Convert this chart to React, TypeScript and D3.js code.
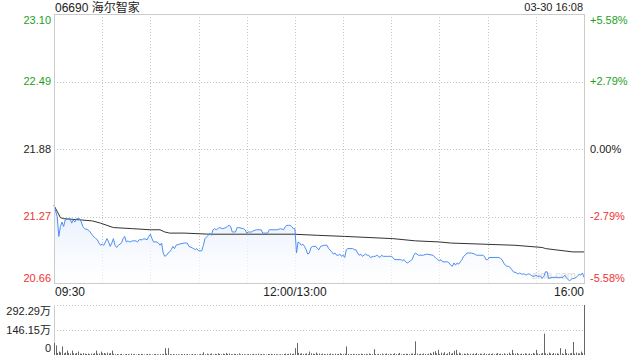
import React from "react";
import * as d3 from "d3";

// ---- data ----
const title = "06690 海尔智家";
const stamp = "03-30 16:08";
const prevClose = 21.88;
const priceTicks = [23.1, 22.49, 21.88, 21.27, 20.66];
const pctTicks = ["+5.58%", "+2.79%", "0.00%", "-2.79%", "-5.58%"];
const timeLabels = ["09:30", "12:00/13:00", "16:00"];
const volTickLabels = ["292.29万", "146.15万", "0"];
const volMax = 292.29;

// minute index (0 = 09:30, 150 = 12:00/13:00, 330 = 16:00) and price
const priceMinutes = [
  0, 2, 3, 4, 5, 6, 7, 9, 10, 11, 12, 13, 14, 15, 16, 17, 18, 19, 21, 22, 23, 24, 26, 27, 28, 29,
  30, 31, 32, 33, 34, 35, 36, 37, 38, 39, 40, 42, 43, 44, 45, 46, 47, 49, 51, 52, 53, 55, 56, 58,
  59, 60, 61, 62, 64, 65, 66, 67, 68, 69, 70, 71, 72, 73, 74, 75, 76, 78, 81, 82, 83, 84, 87, 88,
  89, 90, 92, 93, 94, 96, 97, 98, 99, 100, 101, 102, 103, 105, 107, 108, 109, 110, 111, 113, 114,
  115, 118, 119, 120, 121, 123, 124, 126, 127, 129, 130, 133, 134, 139, 141, 143, 144, 145, 146,
  147, 148, 149, 150,
  151, 152, 153, 154, 155, 156, 157, 158, 159, 160, 161, 163, 164, 165, 166, 168, 170, 171, 173,
  174, 175, 176, 177, 178, 179, 180, 181, 182, 183, 186, 187, 188, 189, 190, 191, 192, 193, 194,
  195, 196, 197, 199, 200, 201, 202, 203, 204, 205, 207, 209, 210, 211, 212, 216, 217, 218, 219,
  220, 221, 222, 223, 224, 225, 227, 230, 232, 236, 238, 239, 240, 241, 242, 244, 245, 246, 247,
  248, 249, 250, 251, 252, 253, 254, 255, 256, 257, 260, 262, 263, 267, 268, 269, 270, 271, 277,
  278, 279, 280, 281, 282, 283, 284, 285, 286, 288, 289, 290, 291, 292, 293, 294, 295, 296, 297,
  298, 299, 300, 301, 302, 303, 304, 305, 306, 307, 308, 310, 314, 317, 318, 319, 320, 321, 322,
  323, 324, 325, 326, 327, 328, 329, 330,
];
const prices = [
  21.37, 21.27, 21.09, 21.18, 21.22, 21.18, 21.24, 21.25, 21.25, 21.21, 21.24, 21.22, 21.25, 21.25,
  21.25, 21.22, 21.18, 21.16, 21.15, 21.14, 21.12, 21.1, 21.07, 21.06, 21.03, 21.01,
  21.02, 21.01, 21.04, 21.07, 21.04, 21.0, 21.03, 21.07, 21.01, 20.99, 21.01, 21.03, 21.07, 21.09,
  21.04, 21.05, 21.04, 21.05, 21.05, 21.04, 21.06, 21.06, 21.07, 21.06,
  21.09, 21.11, 21.07, 21.04, 21.04, 21.03, 21.01, 21.03, 20.94, 20.91, 20.92, 20.94, 20.95, 20.97,
  21.0, 20.98, 21.01, 21.02, 21.03, 21.03, 21.03, 21.0, 20.98, 20.97,
  20.98, 20.96, 20.96, 21.01, 21.07, 21.1, 21.12, 21.1, 21.15, 21.16, 21.15, 21.16, 21.17, 21.16,
  21.17, 21.18, 21.19, 21.18, 21.13, 21.13, 21.17,
  21.17, 21.16, 21.15, 21.12, 21.13, 21.13, 21.14, 21.15, 21.15, 21.15, 21.12, 21.12, 21.15, 21.15,
  21.16, 21.15, 21.18, 21.19, 21.19,
  21.19, 21.18, 21.16, 21.16,
  20.94, 21.04, 21.03, 21.01, 21.02, 21.0, 20.97, 20.93, 20.94, 20.99, 21.0, 21.0, 20.98, 20.97,
  21.0, 21.01, 21.01, 20.98, 20.95,
  20.93, 20.94, 20.92, 20.92, 20.93, 20.91, 20.92, 20.9, 20.97, 20.98, 20.98, 20.97, 20.97, 20.94,
  20.92, 20.93, 20.91, 20.92, 20.93,
  20.92, 20.92, 20.9, 20.91, 20.91, 20.92, 20.91, 20.9, 20.92, 20.91, 20.91, 20.91, 20.91, 20.9,
  20.88, 20.88, 20.87, 20.88, 20.86,
  20.85, 20.86, 20.87, 20.88, 20.92, 20.94, 20.92, 20.92, 20.93, 20.92, 20.89, 20.88, 20.87, 20.88,
  20.86, 20.86, 20.86, 20.85, 20.83,
  20.82, 20.85, 20.83, 20.85, 20.84, 20.86, 20.88, 20.91, 20.92, 20.94, 20.94, 20.93, 20.92, 20.92,
  20.91, 20.88, 20.88, 20.9, 20.9,
  20.89, 20.88, 20.85, 20.83, 20.82, 20.82, 20.81, 20.79, 20.77, 20.76, 20.75, 20.76, 20.75, 20.75,
  20.75, 20.74, 20.75, 20.75, 20.74,
  20.73, 20.73, 20.74, 20.73, 20.73, 20.73, 20.71, 20.73, 20.77, 20.77, 20.71, 20.72, 20.72, 20.72,
  20.74, 20.72, 20.7, 20.69, 20.7,
  20.71, 20.71, 20.72, 20.73, 20.75, 20.74, 20.76, 20.72,
];

const avgMinutes = [0, 4, 6, 16, 24, 29, 37, 49, 60, 66, 69, 72, 81, 97, 114, 132, 149, 164, 181, 211, 225, 240, 247, 267, 287, 304, 306, 323, 330];
const avgPrices = [21.37, 21.26, 21.25, 21.24, 21.23, 21.21, 21.17, 21.16, 21.15, 21.15, 21.13, 21.12, 21.12, 21.11, 21.11, 21.11, 21.11, 21.1, 21.09, 21.07, 21.05, 21.04, 21.03, 21.02, 21.01, 20.99, 20.98, 20.95, 20.95];

// volume per minute (万), index = minute 0..330
const volumes = [
  70, 56, 12, 20, 15, 50, 10, 14, 26, 12,
  9, 26, 10, 8, 12, 20, 9, 7, 11, 8,
  6, 9, 5, 8, 7, 10, 26, 8, 9, 20,
  10, 12, 8, 14, 9, 11, 26, 7, 5, 6,
  4, 5, 7, 3, 4, 6, 5, 3, 8, 4,
  5, 3, 6, 4, 7, 5, 3, 4, 6, 5,
  4, 3, 5, 6, 4, 3, 5, 4, 6, 40,
  8, 40, 5, 4, 6, 3, 5, 4, 3, 5,
  4, 6, 3, 5, 4, 3, 6, 4, 5, 3,
  4, 6, 5, 16, 4, 8, 5, 6, 9, 4,
  7, 5, 10, 6, 4, 8, 5, 12, 6, 9,
  5, 4, 7, 6, 5, 9, 4, 6, 5, 3,
  4, 6, 5, 4, 7, 3, 5, 8, 4, 6,
  5, 4, 3, 6, 5, 7, 4, 6, 5, 4,
  3, 5, 4, 6, 8, 5, 7, 9, 6, 8,
  40,
  70, 12, 8, 10, 6, 7, 9, 5, 20,
  10, 8, 6, 14, 7, 9, 5, 8, 6, 4,
  7, 5, 9, 6, 4, 8, 5, 7, 10, 6,
  5, 8, 50, 6, 4, 5, 7, 4, 6, 5,
  4, 8, 6, 5, 7, 4, 9, 6, 5, 34,
  6, 4, 7, 5, 8, 4, 6, 9, 5, 7,
  4, 6, 10, 5, 7, 12, 4, 6, 5, 8,
  6, 5, 7, 9, 6, 80, 8, 6, 7, 5,
  9, 6, 4, 8, 12, 7, 18, 22, 10, 30,
  6, 14, 8, 16, 5, 9, 18, 7, 11, 24,
  30, 6, 14, 9, 4, 8, 6, 10, 5, 7,
  4, 9, 6, 12, 5, 8, 7, 4, 10, 6,
  5, 8, 6, 9, 4, 7, 12, 5, 8, 6,
  10, 4, 7, 14, 6, 30, 9, 8, 12, 6,
  5, 8, 6, 10, 7, 4, 9, 6, 12, 8,
  30, 9, 6, 8, 12, 125, 10, 7, 14, 9,
  6, 12, 8, 10, 7, 40, 9, 6, 34, 11,
  7, 9, 12, 76, 8, 14, 10, 9, 20, 12,
  292.29,
];

// ---- layout ----
const W = 640;
const H = 360;
const L = 54;
const R = 584;
const T = 14;
const B = 284;
const VT = 305;
const VB = 355;
const GREEN = "#1c9f1c";
const RED = "#f03232";
const FONT = "Arial, 'Liberation Sans', 'Noto Sans CJK SC', sans-serif";

export default function App() {
  const x = d3.scaleLinear().domain([0, 330]).range([L, R]);
  const y = d3.scaleLinear().domain([20.66, 23.1]).range([B, T]);
  const vy = d3.scaleLinear().domain([0, volMax]).range([VB, VT]);

  const pts = priceMinutes.map((m, i) => [m, prices[i]] as [number, number]);
  const avgPts = avgMinutes.map((m, i) => [m, avgPrices[i]] as [number, number]);

  const line = d3
    .line<[number, number]>()
    .x((d) => x(d[0]))
    .y((d) => y(d[1]));
  const area = d3
    .area<[number, number]>()
    .x((d) => x(d[0]))
    .y0(B)
    .y1((d) => y(d[1]));

  const vGrid = d3.range(30, 330, 30);
  const colorOf = (p: number) =>
    Math.abs(p - prevClose) < 0.001 ? "#222" : p > prevClose ? GREEN : RED;
  const labelY = (i: number, v: number) => {
    const yy = y(v);
    if (i === 0) return yy + 6;
    if (i === priceTicks.length - 1) return yy - 6;
    return yy;
  };
  const volLabelY = [VT + 6, (VT + VB) / 2, VB - 7];

  return (
    <svg
      width={W}
      height={H}
      style={{ position: "absolute", left: 0, top: 0, background: "#fff" }}
      fontFamily={FONT}
    >
      <defs>
        <linearGradient id="fillG" x1="0" y1="0" x2="0" y2="1">
          <stop offset="0%" stopColor="#e4edfc" stopOpacity={0.95} />
          <stop offset="100%" stopColor="#ffffff" stopOpacity={0.6} />
        </linearGradient>
      </defs>

      {/* title */}
      <text x={55} y={7.5} dy="0.35em" fontSize={12} fill="#222">
        {title}
      </text>
      <text x={583} y={7.5} dy="0.35em" fontSize={11} fill="#222" textAnchor="end">
        {stamp}
      </text>

      {/* grid */}
      {priceTicks.slice(1, -1).map((p) => (
        <line key={"h" + p} x1={L} x2={R} y1={Math.round(y(p)) + 0.5} y2={Math.round(y(p)) + 0.5} stroke="#c4c4c4" strokeDasharray="1 2" />
      ))}
      {vGrid.map((m) => (
        <line key={"v" + m} x1={Math.round(x(m)) + 0.5} x2={Math.round(x(m)) + 0.5} y1={T} y2={B} stroke="#c4c4c4" strokeDasharray="1 2" />
      ))}

      {/* area + lines */}
      <path d={area(pts) || ""} fill="url(#fillG)" />
      <text x={532} y={279} fontSize={11} fill="#dcdcdc">
        sina.com
      </text>
      <path d={line(avgPts) || ""} fill="none" stroke="#333" strokeWidth={1} />
      <path d={line(pts) || ""} fill="none" stroke="#4f8ef2" strokeWidth={1} />

      {/* frame */}
      <rect x={L + 0.5} y={T + 0.5} width={R - L} height={B - T - 1} fill="none" stroke="#cccccc" />

      {/* price labels */}
      {priceTicks.map((p, i) => (
        <text key={"pl" + i} x={51} y={labelY(i, p)} dy="0.35em" textAnchor="end" fontSize={11} fill={colorOf(p)}>
          {p.toFixed(2)}
        </text>
      ))}
      {pctTicks.map((t, i) => (
        <text key={"pr" + i} x={590} y={labelY(i, priceTicks[i])} dy="0.35em" textAnchor="start" fontSize={11} fill={colorOf(priceTicks[i])}>
          {t}
        </text>
      ))}

      {/* time labels */}
      <text x={55} y={292} dy="0.35em" fontSize={12} fill="#222">
        {timeLabels[0]}
      </text>
      <text x={x(150)} y={292} dy="0.35em" fontSize={12} fill="#222" textAnchor="middle">
        {timeLabels[1]}
      </text>
      <text x={584} y={292} dy="0.35em" fontSize={12} fill="#222" textAnchor="end">
        {timeLabels[2]}
      </text>

      {/* volume panel */}
      {[volMax, volMax / 2].map((v, i) => (
        <line key={"vg" + i} x1={L} x2={R} y1={Math.round(vy(v)) + 0.5} y2={Math.round(vy(v)) + 0.5} stroke="#c4c4c4" strokeDasharray="1 2" />
      ))}
      <line x1={L + 0.5} x2={L + 0.5} y1={VT} y2={VB} stroke="#cccccc" />
      {volumes.map((v, i) => (
        <rect key={"vb" + i} x={Math.round(x(i))} y={vy(v)} width={1} height={VB - vy(v)} fill="#666" />
      ))}
      {volTickLabels.map((t, i) => (
        <text key={"vl" + i} x={51} y={volLabelY[i]} dy="0.35em" textAnchor="end" fontSize={11} fill="#222">
          {t}
        </text>
      ))}
    </svg>
  );
}
